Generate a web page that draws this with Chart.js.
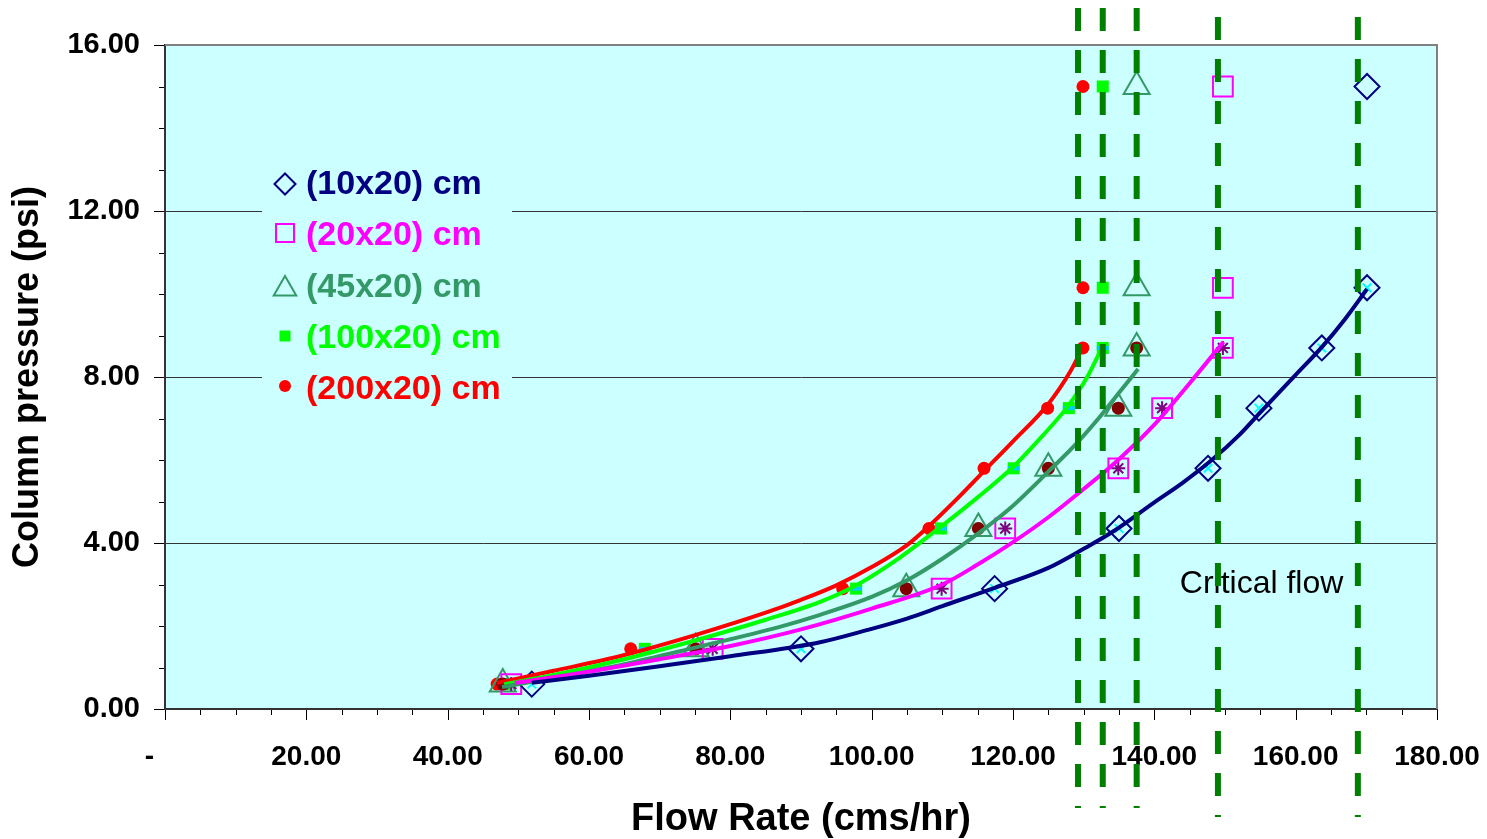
<!DOCTYPE html>
<html><head><meta charset="utf-8">
<script src="https://cdn.jsdelivr.net/npm/chart.js@4.4.1/dist/chart.umd.min.js"></script>
<style>html,body{margin:0;padding:0;background:#fff;overflow:hidden}#wrap{width:1487px;height:839px}</style>
</head><body><div id="wrap"><canvas id="c" width="1487" height="839"></canvas></div>
<script>
const FONT = "'Liberation Sans', Arial, sans-serif";

// ---- data ----
const seriesNames = ['(10x20) cm', '(20x20) cm', '(45x20) cm', '(100x20) cm', '(200x20) cm'];
const pressureLevels = [0.60, 1.45, 2.90, 4.35, 5.80, 7.25, 8.70, 10.15, 15.00];
const flow10x20 = [51.9, 90.0, 117.4, 135.0, 147.6, 154.8, 163.7, 170.1, 170.1];
const flow20x20 = [49.0, 77.5, 109.9, 118.9, 134.9, 141.1, 149.7, 149.7, 149.7];
const flow45x20 = [47.8, 75.1, 104.9, 115.1, 125.0, 134.9, 137.5, 137.5, 137.5];
const flow100x20 = [48.2, 67.9, 97.8, 109.8, 120.1, 127.9, 132.7, 132.7, 132.7];
const flow200x20 = [47.0, 65.9, 95.9, 108.1, 115.9, 124.9, 129.9, 129.9, 129.9];

const trend10x = [51.9, 60, 70, 80, 92.7, 99.3, 105, 110, 117.4, 125, 130, 134.1, 140, 144, 148, 152, 155, 160, 163.7, 167, 170.1];
const trend10y = [0.63, 0.80, 1.03, 1.27, 1.61, 1.90, 2.18, 2.48, 2.92, 3.40, 3.86, 4.27, 4.98, 5.45, 5.98, 6.60, 7.15, 8.05, 8.72, 9.40, 10.12];
const trend20x = [49.5, 60, 70, 80, 90, 100, 110, 115, 120, 125, 130, 135, 140, 145, 149.8];
const trend20y = [0.63, 0.90, 1.20, 1.52, 1.92, 2.42, 3.00, 3.48, 4.02, 4.62, 5.30, 6.02, 6.85, 7.85, 8.85];
const trend45x = [47.7, 55, 65, 75, 87, 92.7, 100, 105, 110, 115, 120, 125, 129, 132.3, 135, 137.7];
const trend45y = [0.53, 0.75, 1.08, 1.48, 1.98, 2.27, 2.70, 3.10, 3.62, 4.22, 4.90, 5.72, 6.40, 7.04, 7.62, 8.19];
const trend100x = [48, 55, 65, 75, 85, 92.7, 97.7, 104, 110, 115, 120, 124, 127.7, 130.5, 132.7];
const trend100y = [0.60, 0.82, 1.20, 1.65, 2.15, 2.58, 2.97, 3.65, 4.42, 5.10, 5.83, 6.55, 7.28, 8.00, 8.75];
const trend200x = [47, 55, 65, 75, 85, 90, 95, 100, 105, 108, 112, 116, 120, 125, 128, 130];
const trend200y = [0.63, 0.92, 1.30, 1.78, 2.32, 2.63, 2.98, 3.42, 3.95, 4.39, 5.05, 5.75, 6.45, 7.35, 8.10, 8.75];

const criticalFlows = [129.2, 132.7, 137.5, 149.0, 168.8];
const criticalLabel = 'Critical flow';
const criticalLabelPos = {x: 143.6, y: 3.0};

const xTickValues = [0, 20, 40, 60, 80, 100, 120, 140, 160, 180];
const xTickLabels = ['-', '20.00', '40.00', '60.00', '80.00', '100.00', '120.00', '140.00', '160.00', '180.00'];
const yTickValues = [0, 4, 8, 12, 16];
const yTickLabels = ['0.00', '4.00', '8.00', '12.00', '16.00'];
const xTitle = 'Flow Rate (cms/hr)';
const yTitle = 'Column pressure (psi)';

// ---- styles ----
const colors = ['#000080', '#FF00FF', '#339966', '#00FF00', '#FF0000'];
const pts = (xs, ys) => xs.map((x, i) => ({x: x, y: ys[i]}));

const datasets = [
  ...[[trend10x, trend10y], [trend20x, trend20y], [trend45x, trend45y], [trend100x, trend100y], [trend200x, trend200y]].map((t, i) => ({
    data: pts(t[0], t[1]), showLine: true, pointRadius: 0, borderColor: colors[i], borderWidth: 4,
    cubicInterpolationMode: 'monotone', order: 0
  })),
  {data: pts(flow10x20.slice(0, 8), pressureLevels), pointStyle: 'crossRot', pointRadius: 6, borderColor: '#00FFFF', backgroundColor: 'transparent', pointBorderWidth: 2, order: 2},
  {data: pts(flow20x20.slice(0, 7), pressureLevels), pointStyle: 'star', pointRadius: 7, borderColor: '#800080', backgroundColor: 'transparent', pointBorderWidth: 2, order: 1},
  {data: pts(flow45x20.slice(0, 7), pressureLevels), pointStyle: 'circle', pointRadius: 6.5, borderColor: '#800000', backgroundColor: '#800000', pointBorderWidth: 0, order: 1},
  {data: pts(flow100x20.slice(0, 7), pressureLevels), pointStyle: 'line', pointRadius: 6, borderColor: '#00CCFF', backgroundColor: '#00CCFF', pointBorderWidth: 4, order: 1},
  {data: pts(flow10x20, pressureLevels), pointStyle: 'rectRot', pointRadius: 12.5, borderColor: colors[0], backgroundColor: 'transparent', pointBorderWidth: 2, order: 1.5},
  {data: pts(flow20x20, pressureLevels), pointStyle: 'rect', pointRadius: 14, borderColor: colors[1], backgroundColor: 'transparent', pointBorderWidth: 2, order: 3},
  {data: pts(flow45x20, pressureLevels), pointStyle: 'triangle', pointRadius: 15, borderColor: colors[2], backgroundColor: 'transparent', pointBorderWidth: 2, order: 3},
  {data: pts(flow100x20, pressureLevels), pointStyle: 'rect', pointRadius: 8.5, borderColor: colors[3], backgroundColor: colors[3], pointBorderWidth: 0, order: 3},
  {data: pts(flow200x20, pressureLevels), pointStyle: 'circle', pointRadius: 6.5, borderColor: colors[4], backgroundColor: colors[4], pointBorderWidth: 0, order: 3}
];

function marker(ctx, style, x, y, r, color, filled) {
  ctx.save();
  ctx.beginPath();
  if (style === 'diamond') { ctx.moveTo(x - r, y); ctx.lineTo(x, y - r); ctx.lineTo(x + r, y); ctx.lineTo(x, y + r); ctx.closePath(); }
  else if (style === 'square') { ctx.rect(x - r, y - r, 2 * r, 2 * r); }
  else if (style === 'triangle') { ctx.moveTo(x, y - r); ctx.lineTo(x + 0.866 * r, y + 0.5 * r); ctx.lineTo(x - 0.866 * r, y + 0.5 * r); ctx.closePath(); }
  else { ctx.arc(x, y, r, 0, Math.PI * 2); }
  if (filled) { ctx.fillStyle = color; ctx.fill(); }
  else { ctx.strokeStyle = color; ctx.lineWidth = 2; ctx.stroke(); }
  ctx.restore();
}

const decor = {
  id: 'decor',
  beforeDraw(chart) {
    const {ctx, chartArea: a} = chart;
    ctx.save();
    ctx.fillStyle = '#ffffff';
    ctx.fillRect(0, 0, chart.width, chart.height);
    ctx.fillStyle = '#CCFFFF';
    ctx.fillRect(a.left, a.top, a.right - a.left, a.bottom - a.top);
    ctx.restore();
  },
  beforeDatasetsDraw(chart) {
    const {ctx, chartArea: a, scales: {x, y}} = chart;
    ctx.save();
    ctx.strokeStyle = '#808080'; ctx.lineWidth = 2;
    ctx.beginPath(); ctx.moveTo(a.left, a.top); ctx.lineTo(a.right, a.top); ctx.lineTo(a.right, a.bottom); ctx.stroke();
    ctx.strokeStyle = '#000'; ctx.lineWidth = 1;
    for (let v = 0; v <= 180; v += 5) {
      const px = Math.round(x.getPixelForValue(v)) + 0.5;
      const len = v % 20 === 0 ? 11 : 6;
      ctx.beginPath(); ctx.moveTo(px, a.bottom + 1); ctx.lineTo(px, a.bottom + len); ctx.stroke();
    }
    for (let v = 0; v <= 16; v += 1) {
      const py = Math.round(y.getPixelForValue(v)) + 0.5;
      const len = v % 4 === 0 ? 11 : 6;
      ctx.beginPath(); ctx.moveTo(a.left - 1, py); ctx.lineTo(a.left - len, py); ctx.stroke();
    }
    ctx.fillStyle = '#CCFFFF';
    ctx.fillRect(262, 160, 250, 255);
    const styles = ['diamond', 'square', 'triangle', 'square', 'circle'];
    const sizes = [10.5, 9, 13, 5.5, 6];
    const filled = [false, false, false, true, true];
    const rowY = [185, 236, 288, 339, 390];
    const markY = [184, 233, 289, 336, 386];
    ctx.font = 'bold 34px ' + FONT;
    ctx.textBaseline = 'middle';
    ctx.textAlign = 'left';
    seriesNames.forEach((n, i) => {
      marker(ctx, styles[i], 285, markY[i], sizes[i], colors[i], filled[i]);
      ctx.fillStyle = colors[i];
      ctx.fillText(n, 306, rowY[i]);
    });
    ctx.restore();
  },
  afterDraw(chart) {
    const {ctx, scales: {x, y}} = chart;
    ctx.save();
    ctx.font = '32px ' + FONT;
    ctx.fillStyle = '#000';
    ctx.textBaseline = 'middle';
    ctx.textAlign = 'left';
    ctx.fillText(criticalLabel, x.getPixelForValue(criticalLabelPos.x), y.getPixelForValue(criticalLabelPos.y));
    ctx.strokeStyle = '#008000';
    ctx.lineWidth = 6;
    ctx.setLineDash([23, 19]);
    const starts = [8, 8, 8, 17, 17];
    criticalFlows.forEach((v, i) => {
      const px = x.getPixelForValue(v);
      ctx.beginPath(); ctx.moveTo(px, starts[i]); ctx.lineTo(px, starts[i] + 800); ctx.stroke();
    });
    ctx.restore();
  }
};

new Chart(document.getElementById('c'), {
  type: 'scatter',
  data: {datasets: datasets},
  options: {
    responsive: false, animation: false, devicePixelRatio: 1,
    layout: {padding: {top: 45, right: 50, left: 0, bottom: 0}},
    plugins: {legend: {display: false}, tooltip: {enabled: false}},
    scales: {
      x: {
        type: 'linear', min: 0, max: 180,
        afterFit(s) { s.height = 130; s.paddingRight = 0; s.paddingLeft = 0; },
        grid: {display: false, drawTicks: false},
        border: {display: true, color: '#333', width: 2},
        ticks: {
          stepSize: 20, autoSkip: false, maxRotation: 0, padding: 31, color: '#000',
          font: {family: FONT, size: 28, weight: 'bold'},
          callback(v) { const i = xTickValues.indexOf(v); if (i < 0) return ''; return v === 0 ? xTickLabels[i] + '    ' : xTickLabels[i]; }
        },
        title: {display: true, text: xTitle, color: '#000', font: {family: FONT, size: 38, weight: 'bold', lineHeight: 0.9}, padding: {top: 0, bottom: 2}}
      },
      y: {
        type: 'linear', min: 0, max: 16,
        afterFit(s) { s.width = 165; s.paddingTop = 0; s.paddingBottom = 0; },
        grid: {drawTicks: false, lineWidth: 1, color: c => (c.tick && (c.tick.value === 0 || c.tick.value === 16)) ? 'rgba(0,0,0,0)' : '#333'},
        border: {display: true, color: '#333', width: 2},
        ticks: {
          stepSize: 4, padding: 25, color: '#000',
          font: {family: FONT, size: 29, weight: 'bold'},
          callback(v) { const i = yTickValues.indexOf(v); return i < 0 ? '' : yTickLabels[i]; }
        },
        title: {display: true, text: yTitle, color: '#000', font: {family: FONT, size: 36, weight: 'bold', lineHeight: 1}, padding: {top: 10, bottom: 0}}
      }
    }
  },
  plugins: [decor]
});
</script>
</body></html>
